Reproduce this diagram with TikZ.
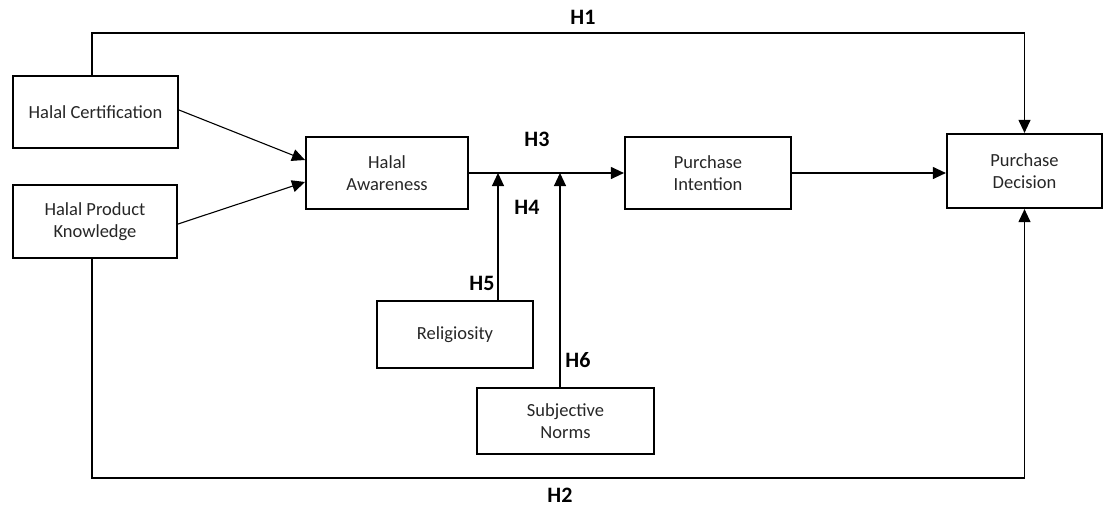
\documentclass[tikz,border=0pt]{standalone}
\usepackage{fontspec}
\setmainfont{Carlito}
\usetikzlibrary{arrows.meta}
\definecolor{txt}{HTML}{262626}
\tikzset{
  box/.style={draw=black, line width=2.2pt, inner sep=0pt, align=center,
    text=txt, font=\fontsize{18.5}{22}\selectfont},
  conn/.style={draw=black, line width=1.1pt},
  arr/.style={conn, -{Triangle[length=13pt,width=12pt]}},
  hlab/.style={font=\fontsize{22}{24}\selectfont\bfseries, text=black, inner sep=0pt}
}
\begin{document}
\begin{tikzpicture}[x=1pt,y=-1pt]
\useasboundingbox (0,0) rectangle (1105,509);
% boxes
\node[box, minimum width=165pt, minimum height=72pt] (HC) at (95.5,112) {Halal Certification};
\node[box, minimum width=164pt, minimum height=73pt] (HPK) at (95,221.5) {Halal Product\\Knowledge};
\node[box, minimum width=162pt, minimum height=72pt] (HA) at (387,173) {Halal\\Awareness};
\node[box, minimum width=166pt, minimum height=72pt] (PI) at (708,173) {Purchase\\Intention};
\node[box, minimum width=155pt, minimum height=74pt] (PD) at (1024.5,171) {Purchase\\Decision};
\node[box, minimum width=156pt, minimum height=67pt] (Rel) at (455,334.5) {Religiosity};
\node[box, minimum width=177pt, minimum height=66pt] (SN) at (565.5,421) {Subjective\\Norms};
% helper coordinates
\coordinate (t1) at (92,33);
\coordinate (t2) at (92,478);
\coordinate (j1) at (498,173);
\coordinate (j2) at (560,173);
\coordinate (hcout) at (179,110);
\coordinate (hpkout) at (178,224);
\coordinate (hain1) at (305,160);
\coordinate (hain2) at (305,182);
% connectors
\draw[arr] (t1 |- HC.north) -- (t1) -| (PD.north);
\draw[arr] (t2 |- HPK.south) -- (t2) -| (PD.south);
\draw[arr] (hcout) -- (hain1);
\draw[arr] (hpkout) -- (hain2);
\draw[arr] (HA.east) -- (PI.west);
\draw[arr] (PI.east) -- (PD.west |- PI.east);
\draw[arr] (j1 |- Rel.north) -- (j1);
\draw[arr] (j2 |- SN.north) -- (j2);
% labels
\node[hlab] (H1) at (583,17) {H1};
\node[hlab] (H2) at (560,495) {H2};
\node[hlab] (H3) at (537,139) {H3};
\node[hlab] (H4) at (527,207) {H4};
\node[hlab] (H5) at (482,283) {H5};
\node[hlab] (H6) at (578,360) {H6};
\end{tikzpicture}
\end{document}
